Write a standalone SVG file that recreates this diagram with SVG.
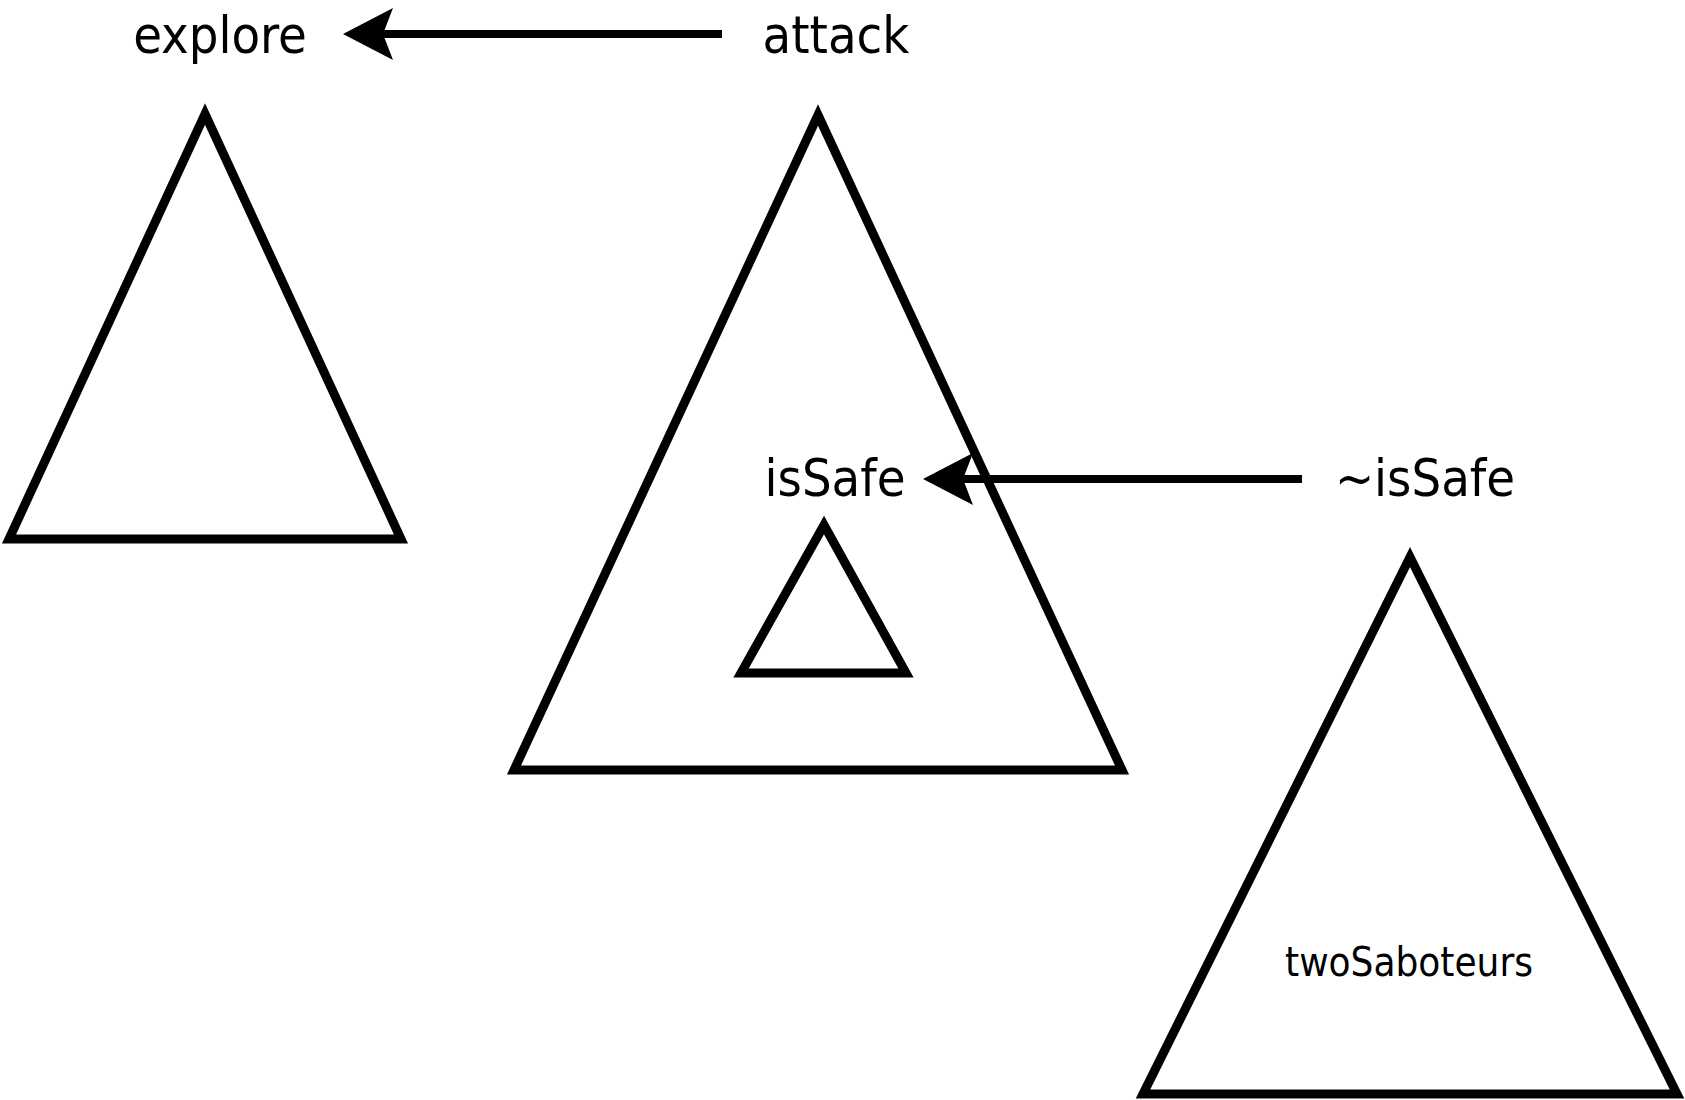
<svg xmlns="http://www.w3.org/2000/svg" width="1685" height="1100" viewBox="0 0 1685 1100">
<style>
  .tri { fill: #ffffff; stroke: #000000; stroke-width: 9; stroke-linejoin: miter; stroke-miterlimit: 10; }
  .lbl { font-family: "DejaVu Sans Condensed", "DejaVu Sans", Verdana, sans-serif; font-stretch: condensed; font-size: 52px; fill: #000000; text-anchor: middle; }
  .small { font-size: 40px; }
  .edge { fill: none; stroke: #000000; stroke-width: 8; }
</style>
<defs>
  <marker id="arrow" markerUnits="userSpaceOnUse" markerWidth="52" markerHeight="54" viewBox="0 0 52 54" refX="11" refY="27" orient="auto" overflow="visible">
    <path d="M51,27 L1,1 L11,27 L1,53 Z" fill="#000000" stroke="none"/>
  </marker>
</defs>
<rect x="0" y="0" width="1685" height="1100" fill="#ffffff"/>
<g id="node-explore-tree">
  <polygon class="tri" points="205,114 401,539 9,539"/>
</g>
<g id="node-explore">
  <text class="lbl" x="220" y="53">explore</text>
</g>
<g id="node-attack-tree">
  <polygon class="tri" points="818,115 1122,770 514,770"/>
</g>
<g id="node-attack">
  <text class="lbl" x="836" y="53">attack</text>
</g>
<g id="node-issafe-tree">
  <polygon class="tri" points="824,525 906,673 741,673"/>
</g>
<g id="node-issafe">
  <text class="lbl" x="835" y="496">isSafe</text>
</g>
<g id="node-notissafe">
  <text class="lbl" x="1425" y="496">~isSafe</text>
</g>
<g id="node-twosaboteurs">
  <polygon class="tri" points="1410,557 1677,1094 1143,1094"/>
  <text class="lbl small" x="1409" y="976">twoSaboteurs</text>
</g>
<g id="connectors">
  <line class="edge" x1="722" y1="34" x2="383" y2="34" marker-end="url(#arrow)"/>
  <line class="edge" x1="1302" y1="479" x2="963" y2="479" marker-end="url(#arrow)"/>
</g>
</svg>
